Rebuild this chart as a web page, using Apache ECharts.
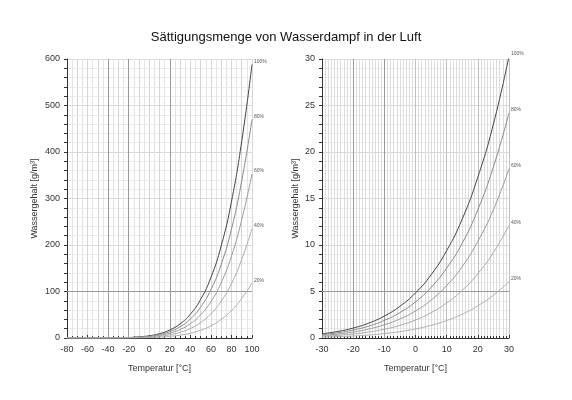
<!DOCTYPE html>
<html>
<head>
<meta charset="utf-8">
<script src="https://cdn.jsdelivr.net/npm/echarts@6/dist/echarts.min.js"></script>
<style>
  html, body { margin: 0; padding: 0; background: #fff; }
  #main { width: 572px; height: 400px; }
</style>
</head>
<body>
<div id="main"></div>
<script>
// Wassergehalt in g/m3
var tempWide = [-80, -70, -60, -50, -40, -30, -20, -10, 0, 10, 20, 30, 40, 50, 60, 70, 80, 90, 100];
var wide100 = [0.001, 0.004, 0.019, 0.06, 0.18, 0.45, 1.07, 2.36, 4.85, 9.4, 17.3, 30.3, 51.1, 83.0, 130, 198, 293, 423, 588];
var wide80 = [0.001, 0.003, 0.015, 0.05, 0.14, 0.36, 0.86, 1.89, 3.88, 7.52, 13.8, 24.2, 40.9, 66.4, 104, 158, 234, 338, 470];
var wide60 = [0, 0.002, 0.011, 0.04, 0.11, 0.27, 0.64, 1.42, 2.91, 5.64, 10.4, 18.2, 30.7, 49.8, 78, 119, 176, 254, 353];
var wide40 = [0, 0.002, 0.008, 0.02, 0.07, 0.18, 0.43, 0.94, 1.94, 3.76, 6.92, 12.1, 20.4, 33.2, 52, 79, 117, 169, 235];
var wide20 = [0, 0.001, 0.004, 0.01, 0.04, 0.09, 0.21, 0.47, 0.97, 1.88, 3.46, 6.06, 10.2, 16.6, 26, 40, 59, 85, 118];

var tempNarrow = [-30, -25, -20, -15, -10, -5, 0, 5, 10, 15, 20, 25, 30];
var narrow100 = [0.45, 0.70, 1.07, 1.60, 2.36, 3.41, 4.85, 6.80, 9.40, 12.8, 17.3, 23.0, 30.3];
var narrow80 = [0.36, 0.56, 0.86, 1.28, 1.89, 2.73, 3.88, 5.44, 7.52, 10.2, 13.8, 18.4, 24.2];
var narrow60 = [0.27, 0.42, 0.64, 0.96, 1.42, 2.05, 2.91, 4.08, 5.64, 7.68, 10.4, 13.8, 18.2];
var narrow40 = [0.18, 0.28, 0.43, 0.64, 0.94, 1.36, 1.94, 2.72, 3.76, 5.12, 6.92, 9.2, 12.1];
var narrow20 = [0.09, 0.14, 0.21, 0.32, 0.47, 0.68, 0.97, 1.36, 1.88, 2.56, 3.46, 4.6, 6.06];

var pctLabels = ['100%', '80%', '60%', '40%', '20%'];
var lineColors = ['#444', '#8a8a8a', '#9a9a9a', '#aaa', '#b0b0b0'];

// Referenzlinien (dunkler)
var wideVLines = [-40, -20, 20];
var wideHLines = [100];
var narrowVLines = [-20, -10];
var narrowHLines = [5];

var font = 'Liberation Sans, Arial, sans-serif';
var myChart = echarts.init(document.getElementById('main'));

function pairs(xs, ys) {
    var res = [];
    for (var i = 0; i < xs.length; i++) res.push([xs[i], ys[i]]);
    return res;
}

function curve(name, idx, xs, ys, axisIdx, withMarks, vLines, hLines) {
    var s = {
        name: name,
        type: 'line',
        xAxisIndex: axisIdx,
        yAxisIndex: axisIdx,
        data: pairs(xs, ys),
        smooth: true,
        showSymbol: false,
        silent: true,
        z: 5,
        lineStyle: { color: lineColors[idx], width: 1 },
        endLabel: {
            show: true,
            formatter: pctLabels[idx],
            fontSize: 5,
            fontFamily: font,
            color: '#555',
            distance: 2,
            offset: [0, -3]
        }
    };
    if (withMarks) {
        var md = [];
        vLines.forEach(function (v) { md.push({ xAxis: v }); });
        hLines.forEach(function (v) { md.push({ yAxis: v }); });
        s.markLine = {
            silent: true,
            symbol: 'none',
            label: { show: false },
            lineStyle: { color: '#999', width: 1, type: 'solid' },
            data: md
        };
    }
    return s;
}

function valueAxis(opt) {
    return Object.assign({
        type: 'value',
        axisLine: { show: true, onZero: false, lineStyle: { color: '#333', width: 1 } },
        axisLabel: { color: '#333', fontSize: 9, fontFamily: font, margin: 7 },
        nameTextStyle: { color: '#333', fontSize: 9, fontFamily: font },
        splitLine: { show: true, lineStyle: { color: '#cfcfcf', width: 1 } },
        minorSplitLine: { show: true, lineStyle: { color: '#ececec', width: 1 } }
    }, opt);
}

var wideSeries = [wide100, wide80, wide60, wide40, wide20];
var narrowSeries = [narrow100, narrow80, narrow60, narrow40, narrow20];
var series = [];
wideSeries.forEach(function (ys, i) {
    series.push(curve(pctLabels[i], i, tempWide, ys, 0, i === 0, wideVLines, wideHLines));
});
narrowSeries.forEach(function (ys, i) {
    series.push(curve(pctLabels[i], i, tempNarrow, ys, 1, i === 0, narrowVLines, narrowHLines));
});

myChart.setOption({
    animation: false,
    backgroundColor: '#fff',
    title: {
        text: 'Sättigungsmenge von Wasserdampf in der Luft',
        left: 'center',
        top: 26,
        textStyle: { fontSize: 13, fontWeight: 'normal', color: '#111', fontFamily: font }
    },
    grid: [
        { left: 67, right: 320, top: 59, bottom: 62 },
        { left: 322, right: 63, top: 59, bottom: 62 }
    ],
    xAxis: [
        valueAxis({
            gridIndex: 0, min: -80, max: 100, interval: 20,
            name: 'Temperatur [°C]', nameLocation: 'middle', nameGap: 26,
            axisTick: { show: true, inside: true, length: 3, lineStyle: { color: '#333' } },
            minorTick: { show: true, splitNumber: 4, length: 2, lineStyle: { color: '#333' } },
            minorSplitLine: { show: true, lineStyle: { color: '#e4e4e4', width: 1 } },
            splitLine: { show: true, lineStyle: { color: '#c4c4c4', width: 1 } }
        }),
        valueAxis({
            gridIndex: 1, min: -30, max: 30, interval: 10,
            name: 'Temperatur [°C]', nameLocation: 'middle', nameGap: 26,
            axisTick: { show: true, inside: true, length: 3, lineStyle: { color: '#333' } },
            minorTick: { show: true, splitNumber: 10, length: 2, lineStyle: { color: '#333' } },
            minorSplitLine: { show: true, lineStyle: { color: '#dcdcdc', width: 1 } },
            splitLine: { show: true, lineStyle: { color: '#c0c0c0', width: 1 } }
        }),
        // feineres Raster links (alle 10 Grad)
        valueAxis({
            gridIndex: 0, min: -80, max: 100, interval: 10,
            axisLine: { show: false }, axisLabel: { show: false }, axisTick: { show: false },
            splitLine: { show: true, lineStyle: { color: '#d6d6d6', width: 1 } },
            minorSplitLine: { show: false }
        })
    ],
    yAxis: [
        valueAxis({
            gridIndex: 0, min: 0, max: 600, interval: 100,
            name: 'Wassergehalt [g/m³]', nameLocation: 'middle', nameGap: 28,
            axisTick: { show: true, inside: false, length: 3, lineStyle: { color: '#333' } },
            minorTick: { show: true, splitNumber: 5, length: 3, lineStyle: { color: '#333' } },
            splitLine: { show: true, lineStyle: { color: '#dadada', width: 1 } }
        }),
        valueAxis({
            gridIndex: 1, min: 0, max: 30, interval: 5,
            name: 'Wassergehalt [g/m³]', nameLocation: 'middle', nameGap: 22,
            axisTick: { show: true, inside: false, length: 3, lineStyle: { color: '#333' } },
            minorTick: { show: true, splitNumber: 5, length: 3, lineStyle: { color: '#333' } },
            splitLine: { show: true, lineStyle: { color: '#dadada', width: 1 } }
        })
    ],
    series: series
});
</script>
</body>
</html>
